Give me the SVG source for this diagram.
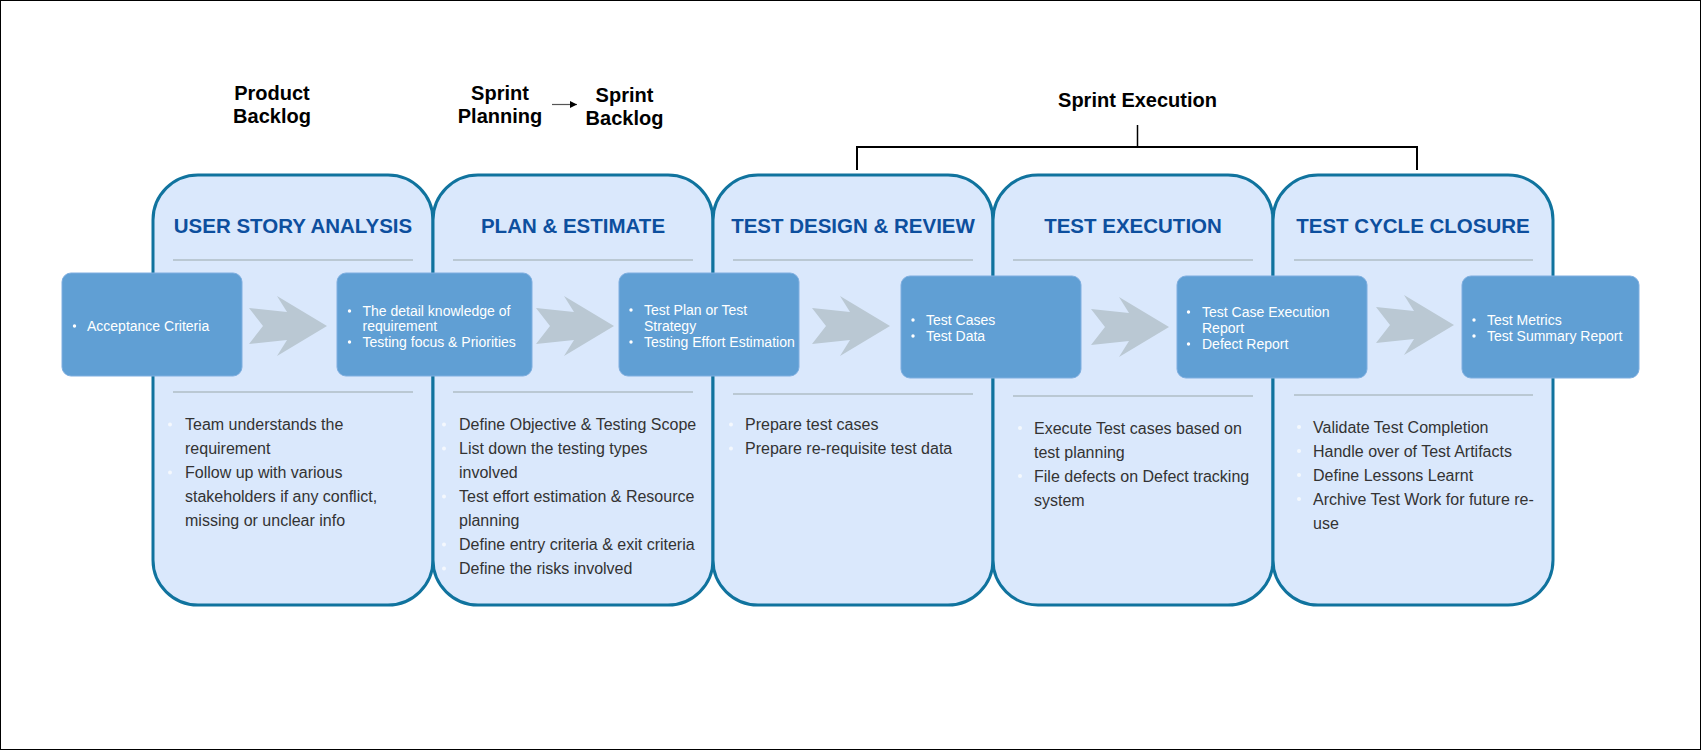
<svg xmlns="http://www.w3.org/2000/svg" xmlns:xlink="http://www.w3.org/1999/xlink" width="1702" height="751" viewBox="0 0 1702 751">
<style>
.card{fill:#dae8fc;stroke:#10739e;stroke-width:3}
.sep{stroke:#bac8d3;stroke-width:2}
.title{font-family:"Liberation Sans",Arial,sans-serif;font-weight:bold;font-size:20.5px;fill:#0d4f9e;text-anchor:middle}
.hdr{font-family:"Liberation Sans",Arial,sans-serif;font-weight:bold;font-size:20px;fill:#000;text-anchor:middle}
.box{fill:#609fd4;stroke:#7eaee0;stroke-width:1}
.bt{font-family:"Liberation Sans",Arial,sans-serif;font-size:14px;fill:#fff}
.bd{fill:#fff}
.lt{font-family:"Liberation Sans",Arial,sans-serif;font-size:16px;fill:#333}
.ld{fill:#f4f8fd}
.chev{fill:#bac8d3}
</style>
<defs>
<polygon id="chev" class="chev" points="0,-18 38,-14 28,-30 78,0 28,30 38,14 0,18 14,0"/>
<marker id="ah" markerWidth="8" markerHeight="8" refX="7" refY="4" orient="auto" markerUnits="userSpaceOnUse">
<path d="M0,0.5 L7,4 L0,7.5 Z" fill="#000"/>
</marker>
</defs>
<rect x="0.5" y="0.5" width="1700" height="749" fill="#fff" stroke="#000" stroke-width="1"/>

<g id="headers">
<text class="hdr" x="272" y="100">Product</text>
<text class="hdr" x="272" y="123">Backlog</text>
<text class="hdr" x="500" y="100">Sprint</text>
<text class="hdr" x="500" y="123">Planning</text>
<text class="hdr" x="624.5" y="102">Sprint</text>
<text class="hdr" x="624.5" y="125">Backlog</text>
<text class="hdr" x="1137.5" y="107">Sprint Execution</text>
</g>

<g id="connectors">
<line x1="552" y1="104.5" x2="577" y2="104.5" stroke="#555" stroke-width="1.2" marker-end="url(#ah)"/>
<line x1="1137.5" y1="125" x2="1137.5" y2="147" stroke="#000" stroke-width="1.5"/>
<polyline points="857,170 857,147 1417,147 1417,170" fill="none" stroke="#000" stroke-width="2"/>
</g>

<g id="card1">
<rect class="card" x="153" y="175" width="280" height="430" rx="45"/>
<text class="title" x="293" y="233">USER STORY ANALYSIS</text>
<line class="sep" x1="173" y1="260" x2="413" y2="260"/>
<line class="sep" x1="173" y1="392" x2="413" y2="392"/>
<circle class="ld" cx="170" cy="424.5" r="2"/>
<circle class="ld" cx="170" cy="472.5" r="2"/>
<text class="lt" x="185" y="430">Team understands the</text>
<text class="lt" x="185" y="454">requirement</text>
<text class="lt" x="185" y="478">Follow up with various</text>
<text class="lt" x="185" y="502">stakeholders if any conflict,</text>
<text class="lt" x="185" y="526">missing or unclear info</text>
</g>

<g id="card2">
<rect class="card" x="433" y="175" width="280" height="430" rx="45"/>
<text class="title" x="573" y="233">PLAN &amp; ESTIMATE</text>
<line class="sep" x1="453" y1="260" x2="693" y2="260"/>
<line class="sep" x1="453" y1="392" x2="693" y2="392"/>
<circle class="ld" cx="444" cy="424.5" r="2"/>
<circle class="ld" cx="444" cy="448.5" r="2"/>
<circle class="ld" cx="444" cy="496.5" r="2"/>
<circle class="ld" cx="444" cy="544.5" r="2"/>
<circle class="ld" cx="444" cy="568.5" r="2"/>
<text class="lt" x="459" y="430">Define Objective &amp; Testing Scope</text>
<text class="lt" x="459" y="454">List down the testing types</text>
<text class="lt" x="459" y="478">involved</text>
<text class="lt" x="459" y="502">Test effort estimation &amp; Resource</text>
<text class="lt" x="459" y="526">planning</text>
<text class="lt" x="459" y="550">Define entry criteria &amp; exit criteria</text>
<text class="lt" x="459" y="574">Define the risks involved</text>
</g>

<g id="card3">
<rect class="card" x="713" y="175" width="280" height="430" rx="45"/>
<text class="title" x="853" y="233">TEST DESIGN &amp; REVIEW</text>
<line class="sep" x1="733" y1="260" x2="973" y2="260"/>
<line class="sep" x1="733" y1="394" x2="973" y2="394"/>
<circle class="ld" cx="731" cy="424.5" r="2"/>
<circle class="ld" cx="731" cy="448.5" r="2"/>
<text class="lt" x="745" y="430">Prepare test cases</text>
<text class="lt" x="745" y="454">Prepare re-requisite test data</text>
</g>

<g id="card4">
<rect class="card" x="993" y="175" width="280" height="430" rx="45"/>
<text class="title" x="1133" y="233">TEST EXECUTION</text>
<line class="sep" x1="1013" y1="260" x2="1253" y2="260"/>
<line class="sep" x1="1013" y1="396" x2="1253" y2="396"/>
<circle class="ld" cx="1020" cy="428" r="2"/>
<circle class="ld" cx="1020" cy="476" r="2"/>
<text class="lt" x="1034" y="433.5">Execute Test cases based on</text>
<text class="lt" x="1034" y="457.5">test planning</text>
<text class="lt" x="1034" y="481.5">File defects on Defect tracking</text>
<text class="lt" x="1034" y="505.5">system</text>
</g>

<g id="card5">
<rect class="card" x="1273" y="175" width="280" height="430" rx="45"/>
<text class="title" x="1413" y="233">TEST CYCLE CLOSURE</text>
<line class="sep" x1="1294" y1="260" x2="1533" y2="260"/>
<line class="sep" x1="1294" y1="395" x2="1533" y2="395"/>
<circle class="ld" cx="1299" cy="427" r="2"/>
<circle class="ld" cx="1299" cy="451" r="2"/>
<circle class="ld" cx="1299" cy="475" r="2"/>
<circle class="ld" cx="1299" cy="499" r="2"/>
<text class="lt" x="1313" y="432.5">Validate Test Completion</text>
<text class="lt" x="1313" y="456.5">Handle over of Test Artifacts</text>
<text class="lt" x="1313" y="480.5">Define Lessons Learnt</text>
<text class="lt" x="1313" y="504.5">Archive Test Work for future re-</text>
<text class="lt" x="1313" y="528.5">use</text>
</g>

<g id="arrows">
<use xlink:href="#chev" x="249" y="326"/>
<use xlink:href="#chev" x="536" y="326"/>
<use xlink:href="#chev" x="812" y="326"/>
<use xlink:href="#chev" x="1091" y="327"/>
<use xlink:href="#chev" x="1376" y="325"/>
</g>

<g id="box1">
<rect class="box" x="62" y="273" width="180" height="103" rx="9"/>
<circle class="bd" cx="74.5" cy="326" r="1.7"/>
<text class="bt" x="87" y="331">Acceptance Criteria</text>
</g>
<g id="box2">
<rect class="box" x="337" y="273" width="195" height="103" rx="9"/>
<circle class="bd" cx="349.5" cy="311" r="1.7"/>
<circle class="bd" cx="349.5" cy="342" r="1.7"/>
<text class="bt" x="362.5" y="316">The detail knowledge of</text>
<text class="bt" x="362.5" y="331">requirement</text>
<text class="bt" x="362.5" y="347">Testing focus &amp; Priorities</text>
</g>
<g id="box3">
<rect class="box" x="619" y="273" width="180" height="103" rx="9"/>
<circle class="bd" cx="631" cy="310" r="1.7"/>
<circle class="bd" cx="631" cy="342" r="1.7"/>
<text class="bt" x="644" y="315">Test Plan or Test</text>
<text class="bt" x="644" y="331">Strategy</text>
<text class="bt" x="644" y="347">Testing Effort Estimation</text>
</g>
<g id="box4">
<rect class="box" x="901" y="276" width="180" height="102" rx="9"/>
<circle class="bd" cx="913" cy="320" r="1.7"/>
<circle class="bd" cx="913" cy="336" r="1.7"/>
<text class="bt" x="926" y="325">Test Cases</text>
<text class="bt" x="926" y="341">Test Data</text>
</g>
<g id="box5">
<rect class="box" x="1177" y="276" width="190" height="102" rx="9"/>
<circle class="bd" cx="1188.5" cy="312" r="1.7"/>
<circle class="bd" cx="1188.5" cy="344" r="1.7"/>
<text class="bt" x="1202" y="317">Test Case Execution</text>
<text class="bt" x="1202" y="333">Report</text>
<text class="bt" x="1202" y="349">Defect Report</text>
</g>
<g id="box6">
<rect class="box" x="1462" y="276" width="177" height="102" rx="9"/>
<circle class="bd" cx="1474" cy="320" r="1.7"/>
<circle class="bd" cx="1474" cy="336" r="1.7"/>
<text class="bt" x="1487" y="325">Test Metrics</text>
<text class="bt" x="1487" y="341">Test Summary Report</text>
</g>
</svg>
